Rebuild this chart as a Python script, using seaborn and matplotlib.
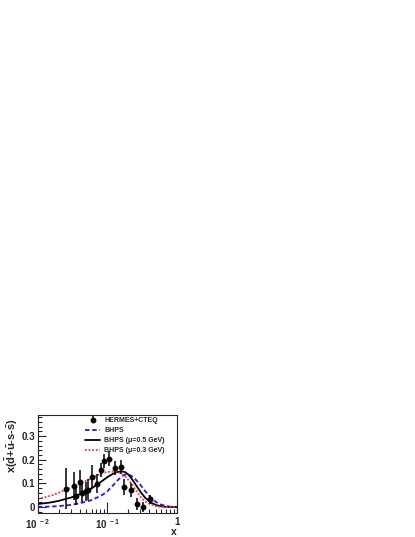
"""Light-antiquark asymmetry x(dbar+ubar-s-sbar) vs x: HERMES+CTEQ vs BHPS."""

import matplotlib

matplotlib.use("Agg")

import matplotlib.pyplot as plt
import numpy as np
import pandas as pd
import seaborn as sns
from matplotlib.ticker import FixedLocator, LogLocator, NullFormatter

# HERMES+CTEQ points
data_x = [0.0253, 0.0333, 0.035, 0.0406, 0.0434, 0.0495, 0.053, 0.0605, 0.0706,
          0.0805, 0.091, 0.105, 0.130, 0.160, 0.177, 0.220, 0.269, 0.324, 0.418]
data_y = [0.078, 0.088, 0.048, 0.108, 0.060, 0.067, 0.073, 0.127, 0.098,
          0.156, 0.196, 0.205, 0.164, 0.168, 0.084, 0.071, 0.014, 0.001, 0.033]
data_err = [0.085, 0.06, 0.04, 0.05, 0.04, 0.04, 0.045, 0.05, 0.04,
            0.03, 0.03, 0.03, 0.03, 0.03, 0.035, 0.03, 0.025, 0.02, 0.02]

# curves
curve_x = [0.01, 0.015, 0.02, 0.025, 0.03, 0.04, 0.05, 0.06, 0.07, 0.08, 0.09, 0.1,
           0.12, 0.14, 0.16, 0.18, 0.2, 0.22, 0.25, 0.3, 0.35, 0.42, 0.5, 0.58, 0.7, 0.85, 1.0]
bhps = [0.001, 0.002, 0.004, 0.007, 0.009, 0.016, 0.023, 0.030, 0.039, 0.047, 0.056, 0.066,
        0.090, 0.112, 0.128, 0.137, 0.138, 0.133, 0.120, 0.094, 0.068, 0.042, 0.022, 0.012, 0.004, 0.001, 0.0]
bhps_05 = [0.013, 0.019, 0.026, 0.034, 0.040, 0.054, 0.066, 0.080, 0.093, 0.105, 0.116, 0.126,
           0.140, 0.148, 0.151, 0.148, 0.138, 0.124, 0.100, 0.065, 0.040, 0.020, 0.009, 0.004, 0.001, 0.0, 0.0]
bhps_03 = [0.034, 0.047, 0.060, 0.073, 0.081, 0.098, 0.112, 0.122, 0.132, 0.140, 0.145, 0.148,
           0.150, 0.148, 0.142, 0.132, 0.116, 0.101, 0.078, 0.044, 0.024, 0.011, 0.004, 0.001, 0.0, 0.0, 0.0]

sns.set_style("ticks")
plt.rcParams["font.family"] = ["Liberation Sans", "DejaVu Sans"]
plt.rcParams["font.weight"] = "bold"
plt.rcParams["mathtext.fontset"] = "custom"
plt.rcParams["mathtext.rm"] = "Liberation Sans:bold"
plt.rcParams["mathtext.it"] = "Liberation Sans:bold"
plt.rcParams["mathtext.bf"] = "Liberation Sans:bold"

curves = pd.DataFrame({"x": curve_x, "BHPS": bhps,
                       "BHPS (\u03bc=0.5 GeV)": bhps_05,
                       "BHPS (\u03bc=0.3 GeV)": bhps_03})

fig = plt.figure(figsize=(4.15, 5.37), dpi=100)
ax = fig.add_axes([0.0908, 0.0447, 0.335, 0.183])

ax.errorbar(data_x, data_y, yerr=data_err, fmt="o", color="black", ms=3.2,
            elinewidth=1.1, capsize=0, label="HERMES+CTEQ", zorder=5)
sns.lineplot(data=curves, x="x", y="BHPS", ax=ax, color="#1a1aff",
             linestyle=(0, (2.5, 1.5)), lw=1.3, label="BHPS")
sns.lineplot(data=curves, x="x", y="BHPS (\u03bc=0.5 GeV)", ax=ax, color="black",
             lw=1.3, label="BHPS (\u03bc=0.5 GeV)")
sns.lineplot(data=curves, x="x", y="BHPS (\u03bc=0.3 GeV)", ax=ax, color="#ff3333",
             linestyle=(0, (1, 1)), lw=1.3, label="BHPS (\u03bc=0.3 GeV)")

ax.set_xscale("log")
ax.set_xlim(0.01, 1.0)
ax.set_ylim(-0.025, 0.39)
ax.xaxis.set_major_locator(FixedLocator([0.01, 0.1, 1.0]))
ax.set_xticklabels([r"$10^{\ -2}$", r"$10^{\ -1}$", "1"])
ax.xaxis.set_minor_locator(LogLocator(base=10, subs=np.arange(2, 10)))
ax.xaxis.set_minor_formatter(NullFormatter())
ax.set_yticks([0, 0.1, 0.2, 0.3])
ax.set_yticklabels(["0", "0.1", "0.2", "0.3"])
ax.yaxis.set_minor_locator(FixedLocator(np.arange(-0.02, 0.39, 0.02)))

ax.tick_params(which="both", direction="in", labelsize=7, width=0.8, pad=3)
ax.tick_params(axis="y", which="major", pad=2)
ax.tick_params(which="major", length=6)
ax.tick_params(which="minor", length=3)
ax.tick_params(axis="x", which="major", length=8)
for side in ax.spines.values():
    side.set_linewidth(0.8)

ax.set_xlabel("x", fontsize=7.5, fontweight="bold")
ax.xaxis.set_label_coords(1.0, -0.14)
ax.xaxis.label.set_horizontalalignment("right")
ax.set_ylabel(r"x($\bar{\rm d}$+$\bar{\rm u}$-s-$\bar{\rm s}$)", fontsize=8, fontweight="bold")
ax.yaxis.set_label_coords(-0.128, 0.97)
ax.yaxis.label.set_horizontalalignment("right")

handles, labels = ax.get_legend_handles_labels()
order = [labels.index("HERMES+CTEQ")] + [i for i, l in enumerate(labels) if l != "HERMES+CTEQ"]
ax.legend([handles[i] for i in order], [labels[i] for i in order],
          loc="upper left", bbox_to_anchor=(0.32, 1.005), frameon=False,
          fontsize=5, handlelength=2.2, handletextpad=0.6, labelspacing=0.45,
          borderaxespad=0)

fig.savefig("out.png", dpi=100)
plt.close(fig)
